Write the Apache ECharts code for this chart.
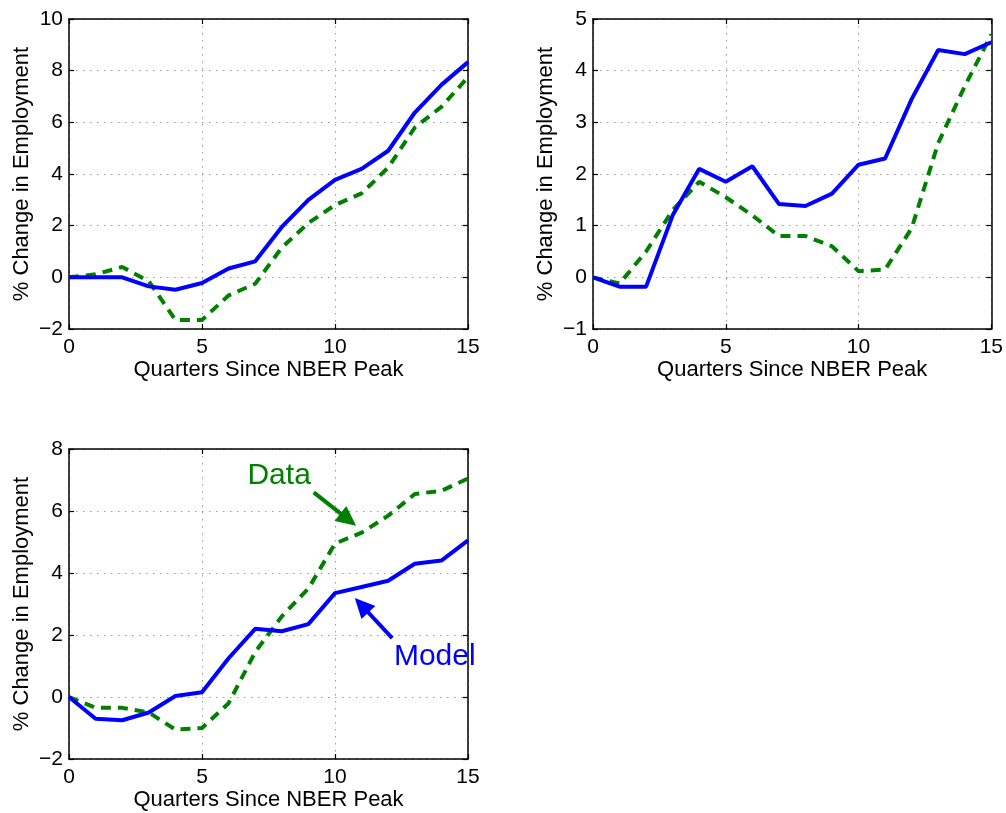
<!DOCTYPE html>
<html>
<head>
<meta charset="utf-8">
<script src="https://cdn.jsdelivr.net/npm/echarts@6/dist/echarts.min.js"></script>
<style>
  html, body { margin: 0; padding: 0; background: #fff; }
  #main { width: 1006px; height: 813px; }
</style>
</head>
<body>
<div id="main"></div>
<script>
// quarters since NBER peak
var quarters = [0, 1, 2, 3, 4, 5, 6, 7, 8, 9, 10, 11, 12, 13, 14, 15];

// panel 1 (top left)
var model1 = [0, 0, 0, -0.35, -0.48, -0.22, 0.34, 0.62, 1.95, 3.0, 3.77, 4.2, 4.9, 6.38, 7.45, 8.33];
var data1  = [0, 0.12, 0.4, -0.15, -1.65, -1.65, -0.7, -0.25, 1.15, 2.1, 2.8, 3.25, 4.25, 5.8, 6.6, 7.75];

// panel 2 (top right)
var model2 = [0, -0.18, -0.18, 1.2, 2.1, 1.85, 2.15, 1.42, 1.38, 1.62, 2.18, 2.3, 3.45, 4.4, 4.32, 4.55];
var data2  = [0, -0.12, 0.5, 1.3, 1.85, 1.55, 1.2, 0.8, 0.8, 0.6, 0.12, 0.15, 0.95, 2.6, 3.7, 4.7];

// panel 3 (bottom left)
var model3 = [0, -0.7, -0.75, -0.5, 0.03, 0.15, 1.25, 2.2, 2.12, 2.35, 3.35, 3.55, 3.75, 4.3, 4.4, 5.05];
var data3  = [0, -0.35, -0.35, -0.5, -1.05, -1.0, -0.2, 1.45, 2.6, 3.5, 4.95, 5.3, 5.85, 6.55, 6.65, 7.05];

// y ranges [min, max, interval]
var yRanges = [[-2, 10, 2], [-1, 5, 1], [-2, 8, 2]];

// annotations on panel 3: label position and arrow [tail, head centre]
var dataLabel  = [7.9, 7.15];
var dataArrow  = [[9.2, 6.6], [10.5, 5.72]];
var modelLabel = [13.75, 1.3];
var modelArrow = [[12.15, 1.9], [11.0, 2.96]];

var BLUE = '#0000ff';
var GREEN = '#008000';
var FONT = 'Liberation Sans, Arial, Helvetica, sans-serif';

var chart = echarts.init(document.getElementById('main'));

var grids = [
  { left: 69, top: 19, width: 399, height: 310 },
  { left: 593, top: 19, width: 400, height: 310 },
  { left: 69, top: 449, width: 399, height: 310 }
];

function minus(v) { return String(v).replace('-', '\u2212'); }

var gridLine = { show: true, lineStyle: { color: '#999', type: [1.5, 5.5], width: 1 } };
var axisLine = { show: true, onZero: false, lineStyle: { color: '#000', width: 1.5 } };
var tick = { show: true, inside: true, length: 5, lineStyle: { color: '#000', width: 1.2 } };

var xAxes = [], yAxes = [];
grids.forEach(function (g, i) {
  xAxes.push({
    type: 'value', gridIndex: i, min: 0, max: 15, interval: 5, position: 'bottom',
    name: 'Quarters Since NBER Peak', nameLocation: 'middle', nameGap: 28,
    nameTextStyle: { fontSize: 22, color: '#000', fontFamily: FONT },
    axisLine: axisLine, axisTick: tick, splitLine: gridLine,
    axisLabel: { fontSize: 21, color: '#000', fontFamily: FONT, margin: 8 }
  });
  xAxes.push({
    type: 'value', gridIndex: i, min: 0, max: 15, interval: 5, position: 'top',
    axisLine: axisLine, axisTick: tick, splitLine: { show: false }, axisLabel: { show: false }
  });
  var r = yRanges[i];
  yAxes.push({
    type: 'value', gridIndex: i, min: r[0], max: r[1], interval: r[2], position: 'left',
    name: '% Change in Employment', nameLocation: 'middle', nameGap: 36,
    nameTextStyle: { fontSize: 22, color: '#000', fontFamily: FONT },
    axisLine: axisLine, axisTick: tick, splitLine: gridLine,
    axisLabel: { fontSize: 21, color: '#000', fontFamily: FONT, margin: 6, formatter: minus }
  });
  yAxes.push({
    type: 'value', gridIndex: i, min: r[0], max: r[1], interval: r[2], position: 'right',
    axisLine: axisLine, axisTick: tick, splitLine: { show: false }, axisLabel: { show: false }
  });
});

function pairs(ys) {
  return quarters.map(function (q, k) { return [q, ys[k]]; });
}

function modelSeries(i, ys) {
  return {
    type: 'line', xAxisIndex: i * 2, yAxisIndex: i * 2, data: pairs(ys),
    showSymbol: false, symbol: 'none', z: 3,
    lineStyle: { color: BLUE, width: 4 }
  };
}
function dataSeries(i, ys) {
  return {
    type: 'line', xAxisIndex: i * 2, yAxisIndex: i * 2, data: pairs(ys),
    showSymbol: false, symbol: 'none', z: 2,
    lineStyle: { color: GREEN, width: 4, type: [10, 7] }
  };
}

function arrow(a, color) {
  return {
    type: 'line', xAxisIndex: 4, yAxisIndex: 4, data: [], silent: true,
    markLine: {
      silent: true, animation: false,
      symbol: ['none', 'triangle'], symbolSize: [19, 20],
      itemStyle: { color: color },
      lineStyle: { color: color, width: 4, type: 'solid' },
      label: { show: false },
      data: [[{ coord: a[0] }, { coord: a[1] }]]
    }
  };
}

function textLabel(pos, text, color) {
  return {
    type: 'scatter', xAxisIndex: 4, yAxisIndex: 4, data: [pos], symbolSize: 0, silent: true,
    itemStyle: { opacity: 1 },
    label: { show: true, position: 'inside', formatter: text, color: color, opacity: 1, fontSize: 30, fontFamily: FONT }
  };
}

var option = {
  animation: false,
  backgroundColor: '#fff',
  grid: grids,
  xAxis: xAxes,
  yAxis: yAxes,
  series: [
    dataSeries(0, data1), modelSeries(0, model1),
    dataSeries(1, data2), modelSeries(1, model2),
    dataSeries(2, data3), modelSeries(2, model3),
    arrow(dataArrow, GREEN), arrow(modelArrow, BLUE),
    textLabel(dataLabel, 'Data', GREEN), textLabel(modelLabel, 'Model', BLUE)
  ]
};

chart.setOption(option);
window.addEventListener('resize', function () {
  chart.resize();
});
</script>
</body>
</html>
